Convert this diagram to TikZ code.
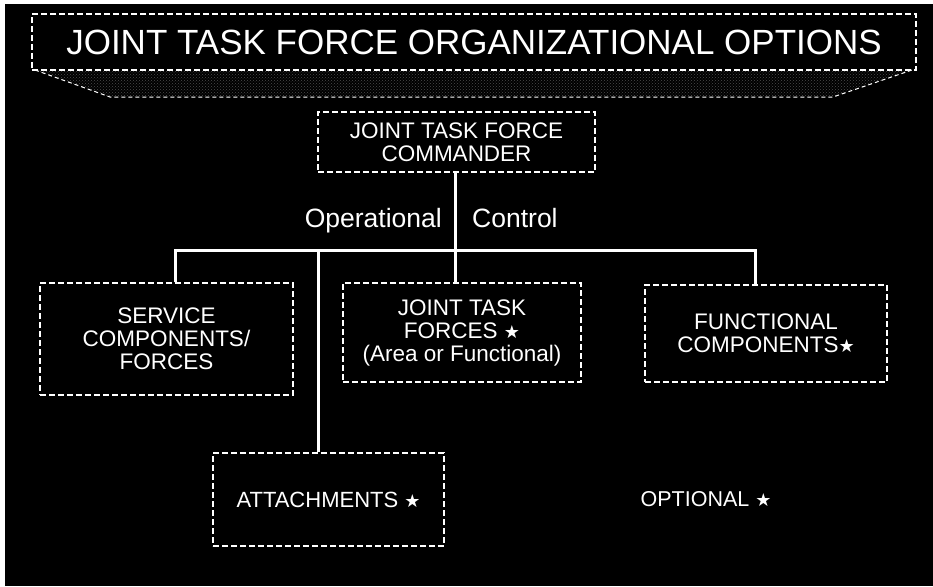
\documentclass[tikz,border=0pt]{standalone}
\usepackage{fontspec}
\setmainfont{Liberation Sans}
\newfontfamily\dejavu{DejaVu Sans}
\usetikzlibrary{patterns}
\newcommand\starmark{{\dejavu\fontsize{18}{18}\selectfont ★}}
\begin{document}
\begin{tikzpicture}[x=1pt,y=-1pt,
  box/.style={draw=white, line width=1.4pt, dash pattern=on 6pt off 3pt,
    inner sep=0pt, align=center, text=white,
    font=\fontsize{22.5}{23}\selectfont},
  conn/.style={draw=white, line width=3pt, line join=miter},
  lbl/.style={text=white, inner sep=0pt}]
\fill[white] (0,0) rectangle (933,586);
\fill[black] (5,4) rectangle (933,586);
\useasboundingbox (0,0) rectangle (933,586);

% title
\draw[white, line width=1pt, dash pattern=on 4pt off 3pt,
      pattern=crosshatch dots, pattern color=white!30!black]
  (35,70) -- (110,97) -- (833,97) -- (912,70);
\node[box, minimum width=884, minimum height=56,
      font=\fontsize{35}{35}\selectfont] (title) at (474,42)
  {JOINT TASK FORCE ORGANIZATIONAL OPTIONS};

% boxes
\node[box, minimum width=277, minimum height=60] (cmd) at (456.5,142)
  {JOINT TASK FORCE\\COMMANDER};
\node[box, minimum width=253, minimum height=112] (svc) at (166.5,339)
  {SERVICE\\COMPONENTS/\\FORCES};
\node[box, minimum width=238, minimum height=99] (jtf) at (462,332.5)
  {JOINT TASK\\FORCES \starmark\\(Area or Functional)};
\node[box, minimum width=242, minimum height=97] (fun) at (766,333.5)
  {FUNCTIONAL\\COMPONENTS\starmark};
\node[box, minimum width=231, minimum height=93,
      font=\fontsize{22}{22}\selectfont] (att) at (328.5,499.5)
  {ATTACHMENTS \starmark};

% labels
\node[lbl, anchor=base east, font=\fontsize{26.5}{26.5}\selectfont] (op) at (442,227) {Operational};
\node[lbl, anchor=base west, font=\fontsize{26.5}{26.5}\selectfont] (ct) at (472,227) {Control};
\node[lbl, font=\fontsize{21.5}{21.5}\selectfont] (opt) at (706,499) {OPTIONAL \starmark};

% connectors
\coordinate (jx) at (455,250);
\coordinate (barL) at (175,250);
\coordinate (barR) at (755,250);
\coordinate (attTop) at (318,250);
\draw[conn] (jx |- cmd.south) -- (jx) -- (jx |- jtf.north);
\draw[conn] (barL |- svc.north) -- (barL) -- (barR) -- (barR |- fun.north);
\draw[conn] (attTop) -- (attTop |- att.north);
\end{tikzpicture}
\end{document}
